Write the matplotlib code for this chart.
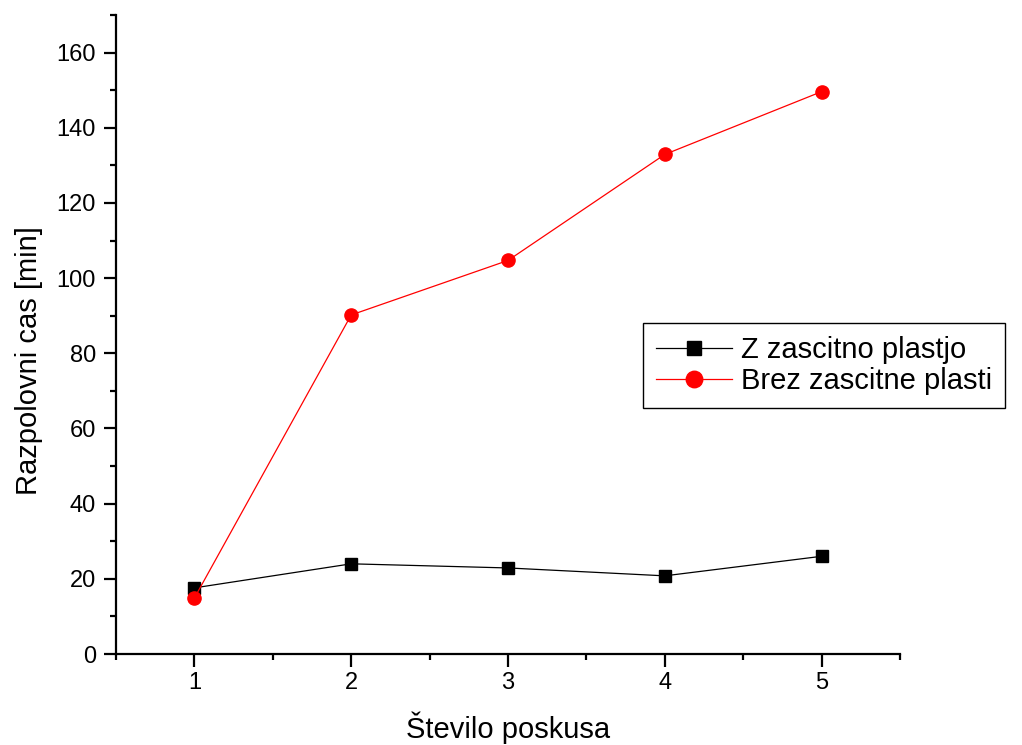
import matplotlib.pyplot as plt
from matplotlib.ticker import MultipleLocator

plt.rcParams['font.family'] = ['Liberation Sans', 'DejaVu Sans']

poskus = [1, 2, 3, 4, 5]
z_plastjo = [17.6, 24.0, 22.9, 20.8, 26.0]
brez_plasti = [14.9, 90.2, 104.7, 132.9, 149.6]

fig = plt.figure(figsize=(10.22, 7.45), dpi=100)
ax = fig.add_axes([0.1135, 0.1221, 0.7671, 0.8578])

ax.plot(poskus, z_plastjo, color='black', lw=0.9, marker='s', ms=8.5,
        label='Z zascitno plastjo')
ax.plot(poskus, brez_plasti, color='red', lw=0.9, marker='o', ms=9.5,
        label='Brez zascitne plasti')

ax.set_xlim(0.5, 5.5)
ax.set_ylim(0, 170)
ax.xaxis.set_major_locator(MultipleLocator(1))
ax.xaxis.set_minor_locator(MultipleLocator(0.5))
ax.yaxis.set_major_locator(MultipleLocator(20))
ax.yaxis.set_minor_locator(MultipleLocator(10))
ax.tick_params(which='major', direction='out', length=9, width=1.6)
ax.tick_params(which='minor', direction='out', length=4.5, width=1.6)
ax.tick_params(axis='x', which='major', pad=4, labelsize=17)
ax.tick_params(axis='y', which='major', pad=5.5, labelsize=17)

for s in ['top', 'right']:
    ax.spines[s].set_visible(False)
for s in ['left', 'bottom']:
    ax.spines[s].set_linewidth(1.6)

ax.set_xlabel('Število poskusa', fontsize=21)
ax.set_ylabel('Razpolovni cas [min]', fontsize=21)
ax.xaxis.set_label_coords(0.5, -0.09)
ax.yaxis.set_label_coords(-0.093, 0.4585)

leg = ax.legend(loc='upper left', bbox_to_anchor=(0.672, 0.518), fontsize=21,
                fancybox=False, edgecolor='black', framealpha=1,
                handlelength=2.6, borderpad=0.45, labelspacing=0.1,
                handletextpad=0.3, borderaxespad=0, markerscale=1.25)
leg.get_frame().set_linewidth(1.0)

fig.savefig('out.png', dpi=100)
